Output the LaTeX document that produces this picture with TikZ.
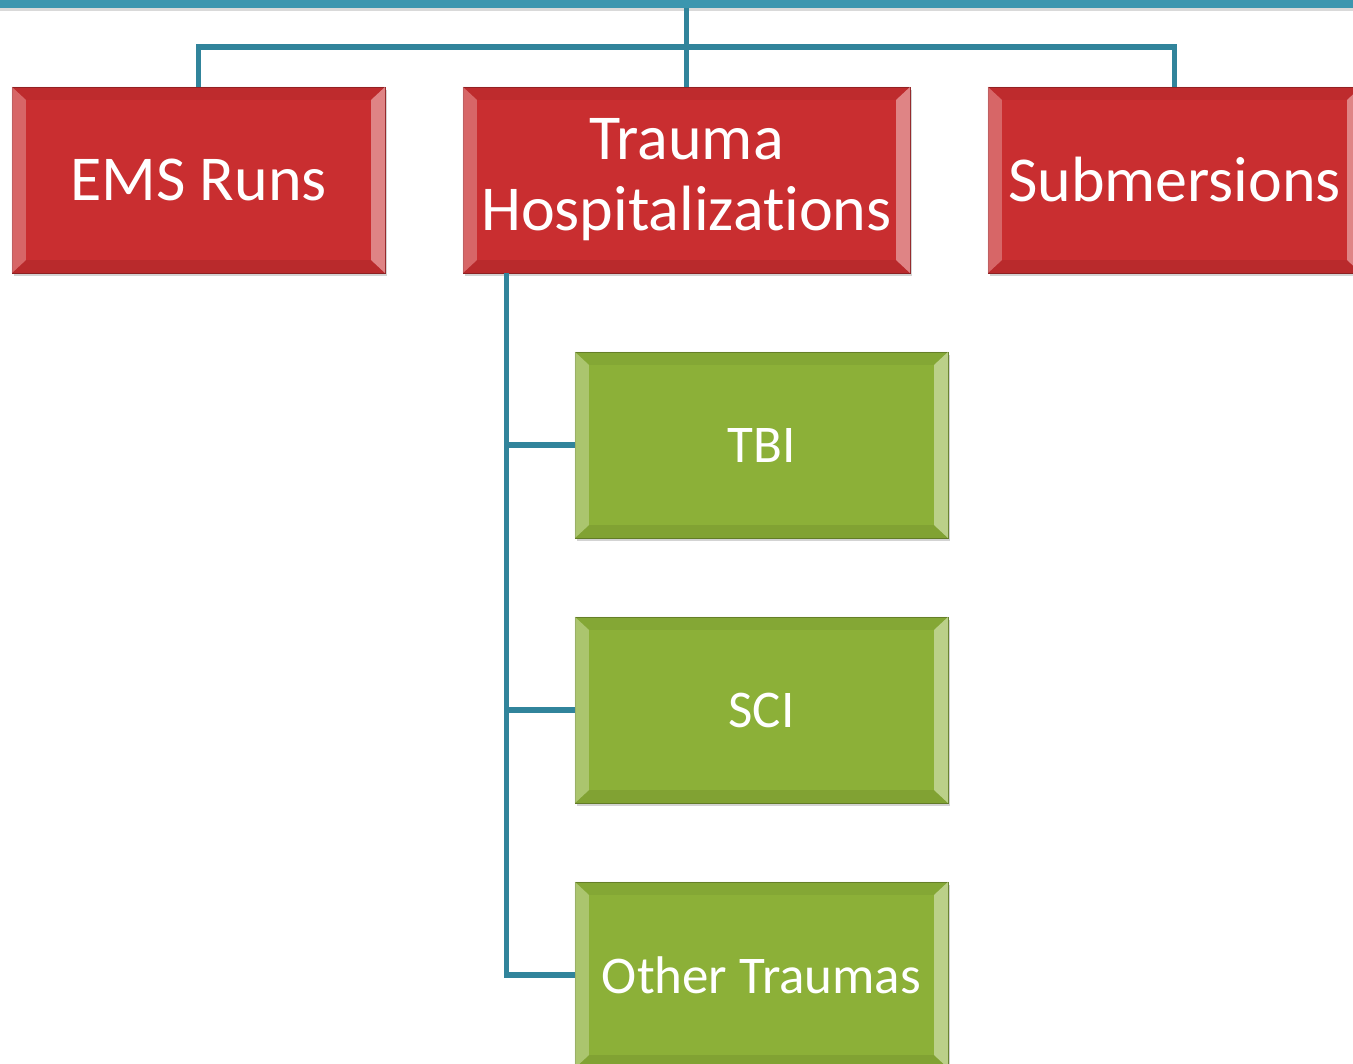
\documentclass[tikz,border=0pt]{standalone}
\usepackage{fontspec}
\setmainfont{Carlito}[Ligatures=NoCommon]
\usepackage{tikz}
\usetikzlibrary{positioning, shadows}

\definecolor{linkteal}{RGB}{49,132,155}
\definecolor{barteal}{RGB}{60,150,175}
\definecolor{boxred}{RGB}{201,46,48}
\definecolor{boxgreen}{RGB}{140,176,56}

\begin{document}
\begin{tikzpicture}[
    x=1pt, y=-1pt,
    topic/.style={rectangle, draw=boxred!70!black, fill=boxred, text=white, minimum width=373pt, minimum height=186pt, inner sep=0pt, align=center, font=\fontsize{64}{71}\selectfont, drop shadow={shadow xshift=2pt, shadow yshift=-3pt, opacity=.35}},
    subtopic/.style={rectangle, draw=boxgreen!70!black, fill=boxgreen, text=white, minimum width=373pt, minimum height=186pt, inner sep=0pt, align=center, font=\fontsize{53}{60}\selectfont, drop shadow={shadow xshift=2pt, shadow yshift=-3pt, opacity=.35}},
    link/.style={draw=linkteal, line width=5.5pt}
]
\useasboundingbox (0,0) rectangle (1353,1064);
\clip (0,0) rectangle (1353,1064);

% Header bar
\node[rectangle, fill=barteal, minimum width=1400pt, minimum height=8pt, inner sep=0pt, drop shadow={shadow xshift=0pt, shadow yshift=-3pt, opacity=.3}] (top) at (686.5,4) {};
\coordinate (hub) at (686.5,47);

% Categories
\node[topic] (ems) at (198.5,180) {EMS Runs};
\node[topic, minimum width=447pt] (trauma) at (686.5,180) {Trauma\\Hospitalizations};
\node[topic] (subm) at (1174.5,180) {Submersions};

% Trauma types
\node[subtopic] (tbi) at (761.5,445) {TBI};
\node[subtopic] (sci) at (761.5,710) {SCI};
\node[subtopic] (other) at (761.5,975) {Other Traumas};

% Bevels
\foreach \n/\c in {ems/boxred, trauma/boxred, subm/boxred, tbi/boxgreen, sci/boxgreen, other/boxgreen} {
  \fill[\c!80!black, opacity=.25] (\n.north west) -- (\n.north east) -- ([shift={(-14,13)}]\n.north east) -- ([shift={(14,13)}]\n.north west) -- cycle;
  \fill[\c!75!black, opacity=.3] (\n.south west) -- (\n.south east) -- ([shift={(-14,-13)}]\n.south east) -- ([shift={(14,-13)}]\n.south west) -- cycle;
  \fill[\c!55!white, opacity=.6] (\n.north west) -- ([shift={(14,13)}]\n.north west) -- ([shift={(14,-13)}]\n.south west) -- (\n.south west) -- cycle;
  \fill[\c!45!white, opacity=.75] (\n.north east) -- ([shift={(-14,13)}]\n.north east) -- ([shift={(-14,-13)}]\n.south east) -- (\n.south east) -- cycle;
}

% Connectors
\draw[link] (top.south) -- (hub);
\draw[link] (hub) -| (ems.north);
\draw[link] (hub) -| (subm.north);
\draw[link] (hub) -- (trauma.north);
\draw[link] ([xshift=-180pt]trauma.south) |- (tbi.west);
\draw[link] ([xshift=-180pt]trauma.south) |- (sci.west);
\draw[link] ([xshift=-180pt]trauma.south) |- (other.west);

\end{tikzpicture}
\end{document}
